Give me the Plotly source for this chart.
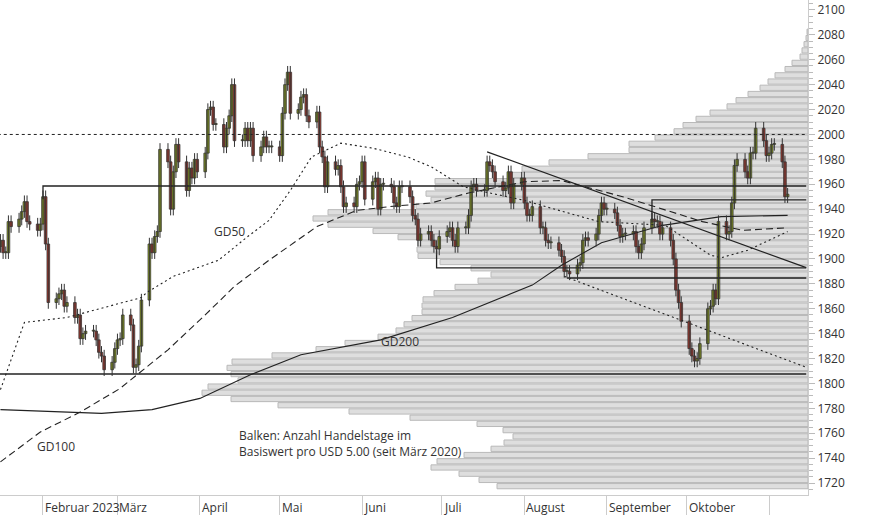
import pandas as pd
import plotly.graph_objects as go

# ---- daily closes (Jan 16 2023 .. Nov 8 2023, business days)
closes = [
 1915,1905,1905,1930,1926, 1932,1938,1946,1930,1928, 1923,1928,1950,1912,1865,
 1868,1872,1875,1862,1865, 1853,1855,1836,1840,1842, 1842,1835,1825,1822,1811,
 1817,1828,1835,1836,1855, 1847,1813,1815,1830,1867, 1912,1905,1918,1922,1988,
 1978,1940,1970,1992,1978, 1955,1973,1965,1980,1970, 1985,2020,2022,2008,2008,
 1990,2005,2015,2040,1995, 1995,2005,1995,2005,1983, 1990,1998,1990,1990,1990,
 1983,2017,2040,2050,2017, 2020,2030,2032,2015,2010, 2018,1990,1982,1958,1978,
 1972,1975,1958,1942,1945, 1942,1960,1962,1978,1948, 1962,1965,1940,1960,1960,
 1958,1945,1942,1958,1958, 1950,1935,1932,1915,1920, 1922,1915,1910,1908,1918,
 1922,1925,1915,1910,1925, 1925,1935,1958,1960,1955, 1955,1978,1975,1970,1962,
 1955,1957,1970,1945,1960, 1965,1945,1935,1935,1942, 1925,1925,1915,1913,1913,
 1907,1902,1890,1890,1888, 1895,1897,1915,1917,1915, 1920,1935,1945,1940,1940,
 1937,1927,1918,1920,1920, 1922,1910,1905,1912,1925, 1932,1930,1930,1920,1925,
 1915,1900,1875,1865,1850, 1828,1822,1818,1820,1832, 1860,1862,1875,1868,1930,
 1920,1922,1945,1975,1980, 1970,1965,1985,1985,2005, 1995,1983,1985,1992,1992,
 1978,1950,1952]
first_open = 1910
wick = 5

# ---- moving averages
gd50_dates = ["2023-01-16","2023-01-25","2023-02-10","2023-03-10","2023-03-12","2023-03-22","2023-04-08",
              "2023-04-19","2023-04-27","2023-05-05","2023-05-13","2023-05-24","2023-06-05","2023-06-18",
              "2023-06-27","2023-07-09","2023-07-19","2023-08-01","2023-08-14","2023-08-29","2023-09-23",
              "2023-10-03","2023-10-10","2023-10-14","2023-10-24","2023-11-08"]
gd50_vals = [1795,1849,1853,1869,1873,1886,1899,1918,1931,1955,1982,1993,1989,1982,1974,1958,1953,1947,
             1939,1930,1927,1913,1903,1901,1907,1922]
gd100_dates = ["2023-01-16","2023-01-31","2023-02-15","2023-03-02","2023-03-20","2023-04-02","2023-04-14",
               "2023-04-27","2023-05-09","2023-05-15","2023-05-30","2023-06-11","2023-06-27","2023-07-11",
               "2023-08-01","2023-08-15","2023-09-07","2023-09-24","2023-10-07","2023-10-22","2023-11-08"]
gd100_vals = [1737,1761,1777,1796,1827,1853,1878,1899,1917,1926,1939,1942,1945,1953,1962,1963,1950,1939,
              1930,1923,1925]
gd200_dates = ["2023-01-16","2023-02-23","2023-03-14","2023-04-01","2023-04-20","2023-05-09","2023-06-08",
               "2023-07-05","2023-08-04","2023-08-15","2023-08-30","2023-09-22","2023-10-14","2023-11-08"]
gd200_vals = [1779,1776,1779,1788,1807,1823,1835,1853,1879,1895,1913,1927,1934,1935]

# ---- trend / support lines
trend_dates = ["2023-07-18","2023-11-15"]; trend_vals = [1986,1893]
trend2_dates = ["2023-08-16","2023-11-15"]; trend2_vals = [1886,1813]
lvl1960_dates = ["2023-02-01","2023-02-01","2023-11-15"]; lvl1960_vals = [1948,1958.6,1958.6]
lvl1808_dates = ["2023-01-15","2023-11-15"]; lvl1808_vals = [1807.6,1807.6]
lvl1947_dates = ["2023-09-18","2023-09-18","2023-11-15"]; lvl1947_vals = [1929,1947.4,1947.4]
lvl1893_dates = ["2023-06-29","2023-06-29","2023-11-15"]; lvl1893_vals = [1907,1892.8,1892.8]
lvl1885_dates = ["2023-08-17","2023-11-15"]; lvl1885_vals = [1884.7,1884.7]

# ---- volume profile: bucket lower bounds and bar lengths
prof_low = list(range(1715, 2085, 5))
prof_len = [311,329,349,377,371,344,317,304,295,305,331,398,459,530,577,606,600,570,577,581,576,536,
            492,463,430,412,404,396,386,386,385,374,353,330,317,337,368,390,391,
            390,410,435,480,495,480,392,377,382,373,373,300,286,259,220,179,179,153,134,125,112,98,81,
            72,60,48,40,33,23,16,8,6,4,2,1]
prof_low = prof_low[:len(prof_len)]

month_ticks = ["2023-02-01","2023-03-01","2023-04-01","2023-05-01","2023-06-01","2023-07-01",
               "2023-08-01","2023-09-01","2023-10-01","2023-11-01"]
month_labels = ["Februar 2023","März","April","Mai","Juni","Juli","August","September","Oktober",""]

dates = pd.bdate_range("2023-01-16", periods=len(closes))
opens = [first_open] + closes[:-1]
highs = [max(o, c) + wick for o, c in zip(opens, closes)]
lows = [min(o, c) - wick for o, c in zip(opens, closes)]

fig = go.Figure()
fig.add_trace(go.Bar(y=[p + 2.5 for p in prof_low], x=prof_len, orientation="h", width=4.2,
                     marker=dict(color="#dedede", line=dict(color="#b9b9b9", width=1)),
                     xaxis="x", yaxis="y", hoverinfo="skip"))

def line(dx, vy, dash="solid", w=1):
    fig.add_trace(go.Scatter(x=dx, y=vy, mode="lines", xaxis="x2", yaxis="y",
                             line=dict(color="#222", width=w, dash=dash), hoverinfo="skip"))

line(["2023-01-15", "2023-11-15"], [2000, 2000], dash="3px,3px")
line(gd200_dates, gd200_vals, w=1.1)
line(gd100_dates, gd100_vals, dash="7px,4px", w=1.1)
line(gd50_dates, gd50_vals, dash="2px,3px", w=1.1)
line(trend_dates, trend_vals, w=1.2)
line(trend2_dates, trend2_vals, dash="2px,3px", w=1.1)
for dd, vv in [(lvl1960_dates, lvl1960_vals), (lvl1808_dates, lvl1808_vals), (lvl1947_dates, lvl1947_vals),
               (lvl1893_dates, lvl1893_vals), (lvl1885_dates, lvl1885_vals)]:
    line(dd, vv, w=1.3)

# candles: wicks then bodies
wx, wy = [], []
for d, h, l in zip(dates, highs, lows):
    wx += [d, d, None]; wy += [l, h, None]
fig.add_trace(go.Scatter(x=wx, y=wy, mode="lines", xaxis="x2", yaxis="y",
                         line=dict(color="#333", width=1), hoverinfo="skip"))
body_w = 1.0 * 24 * 3600 * 1000
fig.add_trace(go.Bar(x=dates, y=[max(abs(c - o), 0.8) for o, c in zip(opens, closes)],
                     base=[min(o, c) for o, c in zip(opens, closes)], width=body_w,
                     marker=dict(color=["#9bb01c" if c >= o else "#c0392b" for o, c in zip(opens, closes)],
                                 line=dict(color="#333", width=0.8)),
                     xaxis="x2", yaxis="y", hoverinfo="skip"))

fig.update_layout(
    width=874, height=515, margin=dict(l=0, r=66, t=0, b=20, autoexpand=False),
    paper_bgcolor="white", plot_bgcolor="white", showlegend=False,
    font=dict(family="Open Sans", size=12, color="#333"),
    barmode="overlay",
    xaxis=dict(range=[808, 0], visible=False, fixedrange=True),
    xaxis2=dict(overlaying="x", anchor="y", side="bottom", type="date", automargin=False,
                range=["2023-01-15 20:00", "2023-11-15 16:00"],
                tickvals=month_ticks, ticktext=[""] * len(month_ticks), ticks="outside", ticklen=20,
                tickcolor="#ccc", showline=True, linecolor="#ccc", showgrid=False, zeroline=False),
    yaxis=dict(range=[1710.4, 2108], side="right", dtick=20, tick0=1700, ticks="outside", ticklen=6,
               automargin=False,
               tickcolor="#bbb", showline=True, linecolor="#ccc", showgrid=False, zeroline=False,
               tickfont=dict(size=12, color="#333"),
               minor=dict(dtick=5, ticks="outside", ticklen=4, tickcolor="#bbb")),
)

for d, lab in zip(month_ticks, month_labels):
    if lab:
        fig.add_annotation(x=d, xref="x2", y=-0.004, yref="paper", text=lab, showarrow=False,
                           xanchor="left", yanchor="top", xshift=0, font=dict(size=12, color="#333"))

def note(px, py, text, anchor="center"):
    fig.add_annotation(x=px / 808, y=1 - py / 495, xref="paper", yref="paper", text=text,
                       showarrow=False, xanchor=anchor, yanchor="middle", align="left",
                       font=dict(size=12, color="#333"))

note(230, 231, "GD50")
note(400, 341, "GD200")
note(56, 446, "GD100")
note(237, 443, "Balken: Anzahl Handelstage im<br>Basiswert pro USD 5.00 (seit März 2020)", anchor="left")

fig.write_html("out.html", config={"displayModeBar": False},
               post_script="document.body.style.margin='0';")
